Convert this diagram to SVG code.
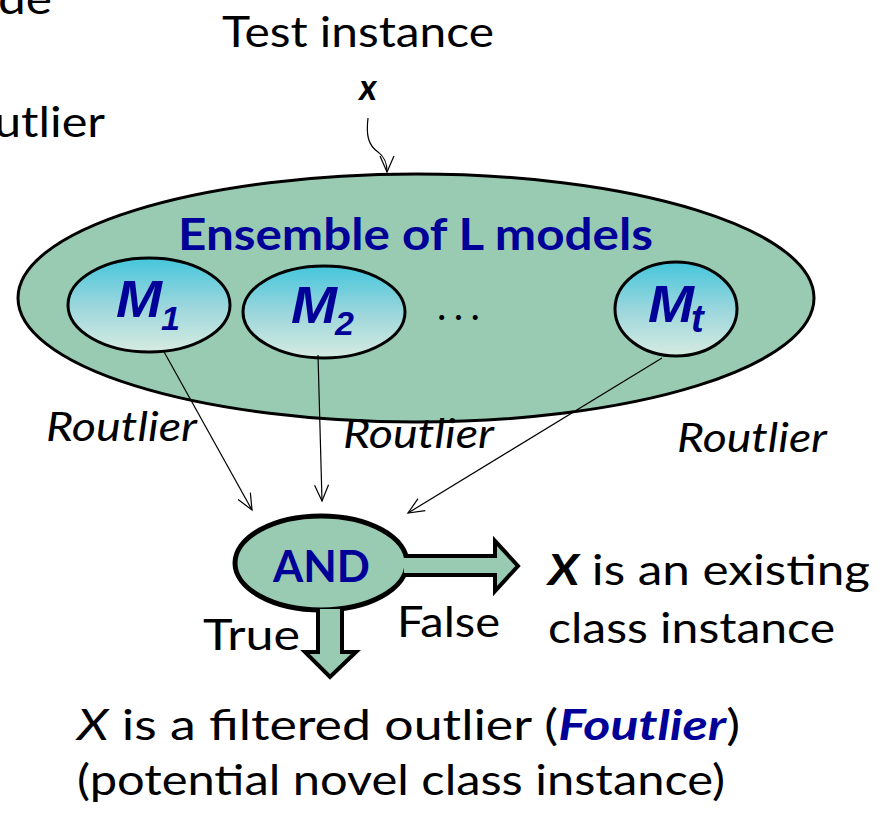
<svg xmlns="http://www.w3.org/2000/svg" width="889" height="818" viewBox="0 0 889 818">
<defs>
<linearGradient id="mg" x1="0" y1="0" x2="0" y2="1">
<stop offset="0" stop-color="#45C6DC"/>
<stop offset="0.5" stop-color="#9AD6DC"/>
<stop offset="1" stop-color="#D6EBE1"/>
</linearGradient>
<marker id="ah" markerWidth="20" markerHeight="20" refX="18" refY="10" orient="auto" markerUnits="userSpaceOnUse">
<path d="M2,3 L18,10 L2,17" fill="none" stroke="#000" stroke-width="1.2"/>
</marker>
<style>
.t{font-family:Lato,"Open Sans",sans-serif;fill:#000}
.b{font-family:Lato,"Open Sans",sans-serif;font-weight:bold;fill:#000099}
.m{font-family:"Liberation Sans",Arial,sans-serif;font-weight:bold;font-style:italic;fill:#000099}
.g{fill:#99CBB3;stroke:#000}
.mm{fill:url(#mg);stroke:#000;stroke-width:3}
.c{fill:none;stroke:#000;stroke-width:1.2}
</style>
</defs>
<rect width="889" height="818" fill="#fff"/>
<text class="t" x="-2" y="14" font-size="42" textLength="54" lengthAdjust="spacingAndGlyphs">de</text>
<text class="t" x="-6" y="137" font-size="42" textLength="111" lengthAdjust="spacingAndGlyphs">utlier</text>
<g id="test">
<text class="t" x="222" y="47" font-size="42" textLength="272" lengthAdjust="spacingAndGlyphs">Test instance</text>
<text class="t" x="368" y="100" font-size="36" font-weight="bold" font-style="italic" text-anchor="middle">x</text>
</g>
<g id="ensemble">
<ellipse class="g" cx="416" cy="298" rx="398" ry="124" stroke-width="3"/>
<text class="b" x="178" y="250" font-size="44" textLength="475" lengthAdjust="spacingAndGlyphs">Ensemble of L models</text>
<text class="t" x="437" y="320" font-size="40" textLength="43" lengthAdjust="spacing">...</text>
</g>
<g id="m1">
<ellipse class="mm" cx="149" cy="305" rx="81" ry="47"/>
<text class="m" x="116" y="317" font-size="52" textLength="46" lengthAdjust="spacingAndGlyphs">M</text>
<text class="m" x="161" y="330" font-size="34">1</text>
</g>
<g id="m2">
<ellipse class="mm" cx="324" cy="312" rx="81" ry="46"/>
<text class="m" x="291" y="323" font-size="52" textLength="46" lengthAdjust="spacingAndGlyphs">M</text>
<text class="m" x="335" y="335" font-size="34">2</text>
</g>
<g id="mt">
<ellipse class="mm" cx="676" cy="309" rx="61" ry="47"/>
<text class="m" x="648" y="322" font-size="52" textLength="46" lengthAdjust="spacingAndGlyphs">M</text>
<text class="m" x="691" y="332" font-size="38">t</text>
</g>
<g id="and">
<ellipse class="g" cx="321" cy="563" rx="86" ry="47" stroke-width="5"/>
<text class="b" x="273" y="582" font-size="44" textLength="97" lengthAdjust="spacingAndGlyphs">AND</text>
</g>
<g id="connectors">
<path class="c" d="M368,118 C366,135 368,145 378,152 C386,158 387,165 387,172" marker-end="url(#ah)"/>
<line class="c" x1="163" y1="350" x2="252" y2="510" marker-end="url(#ah)"/>
<line class="c" x1="318" y1="355" x2="322" y2="501" marker-end="url(#ah)"/>
<line class="c" x1="662" y1="358" x2="408" y2="513" marker-end="url(#ah)"/>
<path d="M404,556 L495,556 L495,541 L518,566 L495,591 L495,575 L404,575" fill="#99CBB3" stroke="#000" stroke-width="4" stroke-linejoin="miter"/>
<path d="M318,609 L318,652 L305,652 L330,677 L356,652 L342,652 L342,609" fill="#99CBB3" stroke="#000" stroke-width="4" stroke-linejoin="miter"/>
</g>
<g id="labels">
<text class="t" x="46" y="441" font-size="40" font-style="italic" textLength="151" lengthAdjust="spacingAndGlyphs">Routlier</text>
<text class="t" x="343" y="448" font-size="40" font-style="italic" textLength="151" lengthAdjust="spacingAndGlyphs">Routlier</text>
<text class="t" x="677" y="452" font-size="40" font-style="italic" textLength="150" lengthAdjust="spacingAndGlyphs">Routlier</text>
<text class="t" x="203" y="650" font-size="42" textLength="97" lengthAdjust="spacingAndGlyphs">True</text>
<text class="t" x="397" y="637" font-size="42" textLength="103" lengthAdjust="spacingAndGlyphs">False</text>
</g>
<g id="results">
<text class="t" x="548" y="585" font-size="42" textLength="322" lengthAdjust="spacingAndGlyphs"><tspan font-weight="bold" font-style="italic">X</tspan> is an existing</text>
<text class="t" x="548" y="643" font-size="42" textLength="287" lengthAdjust="spacingAndGlyphs">class instance</text>
<text class="t" x="77" y="740" font-size="42" textLength="663" lengthAdjust="spacingAndGlyphs"><tspan font-style="italic">X</tspan> is a filtered outlier (<tspan font-weight="bold" font-style="italic" fill="#000099">Foutlier</tspan>)</text>
<text class="t" x="77" y="795" font-size="42" textLength="648" lengthAdjust="spacingAndGlyphs">(potential novel class instance)</text>
</g>
</svg>
